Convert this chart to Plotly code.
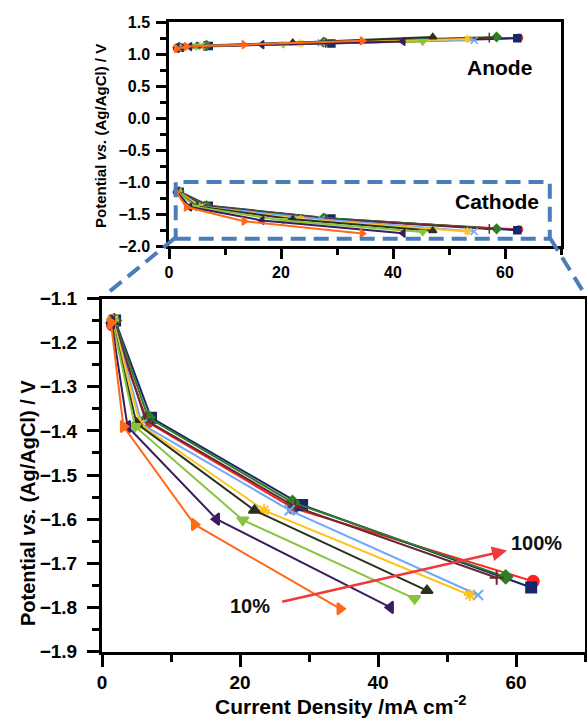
import plotly.graph_objects as go

W, H = 587, 719
FONT = "Liberation Sans, Arial, sans-serif"

# ---- data ----
labels = ["10%", "20%", "30%", "40%", "50%", "60%", "70%", "80%", "90%", "100%"]
colors = ["#FF6A1A", "#3A1D5C", "#86C440", "#27331F", "#FFC21A",
          "#6FA8F5", "#6A2638", "#2F7D25", "#16286A", "#FF2222"]
symbols = ["triangle-right", "triangle-left", "triangle-down", "triangle-up",
           "asterisk-open", "x-thin-open", "cross-thin-open", "diamond", "square", "circle"]

current = [
    [1.3, 3.1, 13.4, 34.5],
    [1.4, 3.7, 16.6, 41.8],
    [1.5, 4.8, 20.4, 45.3],
    [1.5, 5.0, 22.1, 47.1],
    [1.6, 5.5, 23.5, 53.3],
    [1.6, 5.8, 27.2, 54.5],
    [1.7, 6.3, 28.0, 57.2],
    [1.8, 6.7, 27.6, 58.5],
    [1.9, 7.1, 29.0, 62.2],
    [1.5, 6.6, 27.7, 62.5],
]
cathode = [
    [-1.155, -1.390, -1.612, -1.803],
    [-1.155, -1.390, -1.600, -1.800],
    [-1.152, -1.390, -1.602, -1.780],
    [-1.152, -1.383, -1.580, -1.762],
    [-1.150, -1.385, -1.580, -1.772],
    [-1.150, -1.385, -1.580, -1.772],
    [-1.150, -1.375, -1.572, -1.733],
    [-1.150, -1.370, -1.562, -1.731],
    [-1.150, -1.370, -1.568, -1.755],
    [-1.160, -1.380, -1.575, -1.741],
]
anode = [
    [1.09, 1.12, 1.15, 1.21],
    [1.10, 1.12, 1.15, 1.20],
    [1.10, 1.13, 1.16, 1.20],
    [1.10, 1.13, 1.18, 1.27],
    [1.10, 1.13, 1.17, 1.24],
    [1.10, 1.13, 1.18, 1.22],
    [1.10, 1.13, 1.18, 1.26],
    [1.11, 1.14, 1.19, 1.27],
    [1.10, 1.13, 1.17, 1.25],
    [1.09, 1.12, 1.18, 1.26],
]

x_ticks = [0, 20, 40, 60]
top_yticks = [-2.0, -1.5, -1.0, -0.5, 0.0, 0.5, 1.0, 1.5]
bot_yticks = [-1.9, -1.8, -1.7, -1.6, -1.5, -1.4, -1.3, -1.2, -1.1]


def px(x):
    return x / W


def py(y):
    return 1 - y / H


def btxt(vals, fmt):
    return ["<b>" + fmt.format(v).replace("-", "\u2212") + "</b>" for v in vals]


fig = go.Figure()

order = list(range(len(labels)))[::-1]  # 100% drawn first, 10% last
for i in order:
    big = 11 if symbols[i] == "circle" else 10
    for vals in (anode[i], cathode[i]):
        fig.add_trace(go.Scatter(
            x=current[i], y=vals, mode="lines+markers", xaxis="x", yaxis="y",
            line=dict(color=colors[i], width=2),
            marker=dict(symbol=symbols[i], size=7, color=colors[i],
                        line=dict(color=colors[i], width=1.5)),
            showlegend=False, name=labels[i]))
    fig.add_trace(go.Scatter(
        x=current[i], y=cathode[i], mode="lines+markers", xaxis="x2", yaxis="y2",
        line=dict(color=colors[i], width=2),
        marker=dict(symbol=symbols[i], size=big, color=colors[i],
                    line=dict(color=colors[i], width=2)),
        showlegend=False, name=labels[i]))

axis_common = dict(showline=True, linecolor="black", mirror=True, ticks="outside",
                   tickcolor="black", showgrid=False, zeroline=False, automargin=False)

fig.update_layout(
    width=W, height=H, margin=dict(l=0, r=0, t=0, b=0),
    plot_bgcolor="white", paper_bgcolor="white", template="none",
    xaxis=dict(domain=[px(169), px(561)], range=[0, 70], anchor="y",
               tickvals=x_ticks, ticktext=btxt(x_ticks, "{:d}"),
               linewidth=2.5, tickwidth=2.5, ticklen=10,
               minor=dict(dtick=10, tick0=0, ticks="outside", ticklen=6, tickwidth=2.5, tickcolor="black"),
               tickfont=dict(family=FONT, size=16, color="black"),
               **axis_common),
    yaxis=dict(domain=[py(246), py(22.3)], range=[-2.0, 1.5], anchor="x",
               tickvals=top_yticks, ticktext=btxt(top_yticks, "{:.1f}"),
               linewidth=2.5, tickwidth=2.5, ticklen=10, ticklabelstandoff=3,
               minor=dict(dtick=0.25, tick0=0, ticks="outside", ticklen=6, tickwidth=2.5, tickcolor="black"),
               tickfont=dict(family=FONT, size=16, color="black"),
               **axis_common),
    xaxis2=dict(domain=[px(102), px(585)], range=[0, 70], anchor="y2",
                tickvals=x_ticks, ticktext=btxt(x_ticks, "{:d}"),
                linewidth=3, tickwidth=3, ticklen=12,
                minor=dict(dtick=10, tick0=0, ticks="outside", ticklen=7, tickwidth=3, tickcolor="black"),
                tickfont=dict(family=FONT, size=19, color="black"),
                **axis_common),
    yaxis2=dict(domain=[py(651.5), py(298.5)], range=[-1.9, -1.1], anchor="x2",
                tickvals=bot_yticks, ticktext=btxt(bot_yticks, "{:.1f}"),
                linewidth=3, tickwidth=3, ticklen=12, ticklabelstandoff=6,
                minor=dict(dtick=0.05, tick0=-1.9, ticks="outside", ticklen=7, tickwidth=3, tickcolor="black"),
                tickfont=dict(family=FONT, size=19, color="black"),
                **axis_common),
)

C = dict(xanchor="center", yanchor="middle", showarrow=False)
ann = [
    dict(x=px(28), y=py(503), xref="paper", yref="paper", textangle=-90,
         text="<b>Potential <i>vs.</i> (Ag/AgCl) / V</b>",
         font=dict(family=FONT, size=20, color="black"), **C),
    dict(x=px(100), y=py(136), xref="paper", yref="paper", textangle=-90,
         text="<b>Potential <i>vs.</i> (Ag/AgCl) / V</b>",
         font=dict(family=FONT, size=15, color="black"), **C),
    dict(x=px(341), y=py(705), xref="paper", yref="paper",
         text="<b>Current Density /mA cm<sup>-2</sup></b>",
         font=dict(family=FONT, size=21, color="black"), **C),
    dict(x=59.1, y=0.79, xref="x", yref="y", text="<b>Anode</b>",
         font=dict(family=FONT, size=21, color="black"), **C),
    dict(x=58.6, y=-1.31, xref="x", yref="y", text="<b>Cathode</b>",
         font=dict(family=FONT, size=21, color="black"), **C),
    dict(x=62.9, y=-1.655, xref="x2", yref="y2", text="<b>100%</b>",
         font=dict(family=FONT, size=20, color="#111111"), **C),
    dict(x=21.5, y=-1.798, xref="x2", yref="y2", text="<b>10%</b>",
         font=dict(family=FONT, size=20, color="#111111"), **C),
    dict(x=58.7, y=-1.671, ax=25.9, ay=-1.788, xref="x2", yref="y2", axref="x2", ayref="y2",
         showarrow=True, arrowhead=2, arrowsize=1.2, arrowwidth=2.5, arrowcolor="#F03A3A",
         text=""),
]
fig.update_layout(annotations=ann)

blue = "#4A7EBB"
dash = "15px,8px"
shapes = [
    dict(type="rect", xref="x", yref="y", x0=1.2, x1=68.0, y0=-1.886, y1=-1.0,
         line=dict(color=blue, width=4, dash=dash), fillcolor="rgba(0,0,0,0)"),
    dict(type="line", xref="paper", yref="paper", x0=px(175), y0=py(238), x1=px(104), y1=py(296),
         line=dict(color=blue, width=4, dash=dash)),
    dict(type="line", xref="paper", yref="paper", x0=px(550), y0=py(238), x1=px(586), y1=py(296),
         line=dict(color=blue, width=4, dash=dash)),
]
fig.update_layout(shapes=shapes)

fig.write_html("out.html")
